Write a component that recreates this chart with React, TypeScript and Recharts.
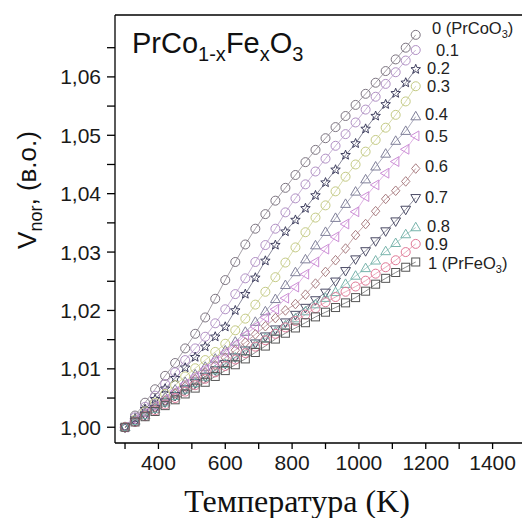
import React from 'react';
import { LineChart, Line, XAxis, YAxis } from 'recharts';

const temperatures = [300, 330, 360, 390, 420, 450, 480, 510, 540, 570, 600, 630, 660, 690, 720, 750, 780, 810, 840, 870, 900, 930, 960, 990, 1020, 1050, 1080, 1110, 1140, 1170];

const x00 = [1.0000, 1.0020, 1.0042, 1.0065, 1.0088, 1.0110, 1.0135, 1.0160, 1.0188, 1.0220, 1.0252, 1.0283, 1.0313, 1.0340, 1.0365, 1.0388, 1.0410, 1.0432, 1.0454, 1.0475, 1.0495, 1.0514, 1.0533, 1.0552, 1.0571, 1.0590, 1.0610, 1.0630, 1.0650, 1.0672];
const x01 = [1.0000, 1.0017, 1.0035, 1.0054, 1.0074, 1.0094, 1.0115, 1.0135, 1.0155, 1.0178, 1.0202, 1.0228, 1.0255, 1.0283, 1.0312, 1.0340, 1.0368, 1.0392, 1.0416, 1.0438, 1.0460, 1.0482, 1.0502, 1.0522, 1.0544, 1.0566, 1.0588, 1.0608, 1.0628, 1.0646];
const x02 = [1.0000, 1.0015, 1.0031, 1.0048, 1.0066, 1.0084, 1.0102, 1.0120, 1.0138, 1.0155, 1.0172, 1.0200, 1.0228, 1.0256, 1.0285, 1.0312, 1.0335, 1.0355, 1.0375, 1.0397, 1.0419, 1.0441, 1.0466, 1.0486, 1.0511, 1.0533, 1.0553, 1.0572, 1.0590, 1.0613];
const x03 = [1.0000, 1.0013, 1.0027, 1.0042, 1.0057, 1.0072, 1.0087, 1.0101, 1.0115, 1.0129, 1.0143, 1.0166, 1.0186, 1.0210, 1.0232, 1.0257, 1.0282, 1.0308, 1.0334, 1.0359, 1.0380, 1.0404, 1.0429, 1.0450, 1.0472, 1.0492, 1.0513, 1.0535, 1.0558, 1.0584];
const x04 = [1.0000, 1.0012, 1.0025, 1.0038, 1.0051, 1.0064, 1.0077, 1.0090, 1.0103, 1.0117, 1.0131, 1.0146, 1.0163, 1.0180, 1.0198, 1.0219, 1.0243, 1.0265, 1.0287, 1.0311, 1.0334, 1.0358, 1.0382, 1.0403, 1.0424, 1.0446, 1.0468, 1.0490, 1.0507, 1.0532];
const x05 = [1.0000, 1.0012, 1.0024, 1.0036, 1.0048, 1.0061, 1.0074, 1.0087, 1.0100, 1.0114, 1.0128, 1.0142, 1.0158, 1.0172, 1.0188, 1.0202, 1.0221, 1.0240, 1.0262, 1.0283, 1.0305, 1.0326, 1.0348, 1.0369, 1.0395, 1.0415, 1.0435, 1.0455, 1.0476, 1.0499];
const x06 = [1.0000, 1.0011, 1.0022, 1.0034, 1.0046, 1.0058, 1.0070, 1.0082, 1.0094, 1.0106, 1.0119, 1.0132, 1.0145, 1.0159, 1.0173, 1.0187, 1.0200, 1.0211, 1.0227, 1.0246, 1.0266, 1.0286, 1.0306, 1.0329, 1.0348, 1.0370, 1.0391, 1.0405, 1.0421, 1.0443];
const x07 = [1.0000, 1.0010, 1.0021, 1.0032, 1.0043, 1.0054, 1.0065, 1.0076, 1.0087, 1.0098, 1.0109, 1.0120, 1.0132, 1.0144, 1.0156, 1.0168, 1.0180, 1.0193, 1.0205, 1.0218, 1.0231, 1.0250, 1.0268, 1.0288, 1.0302, 1.0319, 1.0336, 1.0353, 1.0373, 1.0393];
const x08 = [1.0000, 1.0010, 1.0020, 1.0031, 1.0042, 1.0053, 1.0064, 1.0075, 1.0086, 1.0097, 1.0108, 1.0119, 1.0130, 1.0141, 1.0152, 1.0163, 1.0174, 1.0186, 1.0198, 1.0210, 1.0221, 1.0231, 1.0245, 1.0259, 1.0272, 1.0285, 1.0301, 1.0315, 1.0330, 1.0342];
const x09 = [1.0000, 1.0009, 1.0019, 1.0029, 1.0039, 1.0050, 1.0061, 1.0072, 1.0083, 1.0094, 1.0105, 1.0116, 1.0127, 1.0138, 1.0149, 1.0160, 1.0171, 1.0182, 1.0193, 1.0204, 1.0214, 1.0223, 1.0232, 1.0241, 1.0251, 1.0263, 1.0274, 1.0286, 1.0300, 1.0314];
const x10 = [1.0000, 1.0009, 1.0018, 1.0027, 1.0037, 1.0047, 1.0057, 1.0067, 1.0077, 1.0087, 1.0097, 1.0107, 1.0117, 1.0128, 1.0139, 1.0151, 1.0161, 1.0170, 1.0179, 1.0189, 1.0197, 1.0205, 1.0213, 1.0222, 1.0233, 1.0245, 1.0255, 1.0265, 1.0274, 1.0283];

const compositions = ['0', '0.1', '0.2', '0.3', '0.4', '0.5', '0.6', '0.7', '0.8', '0.9', '1'];
const xTicks = [300, 400, 500, 600, 700, 800, 900, 1000, 1100, 1200, 1300, 1400];
const yTicks = [1.0, 1.005, 1.01, 1.015, 1.02, 1.025, 1.03, 1.035, 1.04, 1.045, 1.05, 1.055, 1.06, 1.065];

const seriesValues = [x00, x01, x02, x03, x04, x05, x06, x07, x08, x09, x10];

const styles = [
  { color: '#7c7480', line: '#8e8890', shape: 'circle' },
  { color: '#b08fc4', line: '#b9a0c9', shape: 'circle' },
  { color: '#3e3e5e', line: '#6a6a80', shape: 'star' },
  { color: '#c4ca84', line: '#ccd096', shape: 'circle' },
  { color: '#80809a', line: '#9494aa', shape: 'tri-up' },
  { color: '#cc8ed6', line: '#d6a0dc', shape: 'tri-left' },
  { color: '#a87c80', line: '#b89094', shape: 'diamond' },
  { color: '#4c4c66', line: '#6c6c80', shape: 'tri-down' },
  { color: '#78b4ac', line: '#90c0b8', shape: 'tri-up' },
  { color: '#e07896', line: '#e494aa', shape: 'circle' },
  { color: '#555555', line: '#707070', shape: 'square' },
];

const labelPos = [
  { x: 432, y: 28 }, { x: 436, y: 50 }, { x: 427, y: 68 }, { x: 427, y: 86 },
  { x: 425, y: 114 }, { x: 425, y: 136 }, { x: 425, y: 166 }, { x: 425, y: 197 },
  { x: 427, y: 226 }, { x: 425, y: 244 }, { x: 428, y: 263 },
];

const data = temperatures.map((t, i) => {
  const row: any = { t };
  seriesValues.forEach((arr, k) => { row['s' + k] = arr[i]; });
  return row;
});

function starPath(cx: number, cy: number, ro: number, ri: number) {
  let d = '';
  for (let i = 0; i < 10; i++) {
    const r = i % 2 === 0 ? ro : ri;
    const a = -Math.PI / 2 + (i * Math.PI) / 5;
    d += (i === 0 ? 'M' : 'L') + (cx + r * Math.cos(a)).toFixed(2) + ',' + (cy + r * Math.sin(a)).toFixed(2);
  }
  return d + 'Z';
}

function Marker({ cx, cy, shape, color }: any) {
  if (cx == null || cy == null) return null;
  const common = { fill: 'none', stroke: color, strokeWidth: 1 };
  switch (shape) {
    case 'star':
      return <path d={starPath(cx, cy, 5, 2.2)} {...common} />;
    case 'tri-up':
      return <path d={`M${cx},${cy - 5.3} L${cx + 4.9},${cy + 3.2} L${cx - 4.9},${cy + 3.2} Z`} {...common} />;
    case 'tri-down':
      return <path d={`M${cx},${cy + 5.3} L${cx + 4.9},${cy - 3.2} L${cx - 4.9},${cy - 3.2} Z`} {...common} />;
    case 'tri-left':
      return <path d={`M${cx - 5.3},${cy} L${cx + 3.2},${cy - 4.9} L${cx + 3.2},${cy + 4.9} Z`} {...common} />;
    case 'diamond':
      return <path d={`M${cx},${cy - 4.8} L${cx + 4.2},${cy} L${cx},${cy + 4.8} L${cx - 4.2},${cy} Z`} {...common} />;
    case 'square':
      return <rect x={cx - 4} y={cy - 4} width={8} height={8} {...common} />;
    default:
      return <circle cx={cx} cy={cy} r={4.5} {...common} />;
  }
}

const fmtY = (v: number) => {
  const m = Math.round(v * 1000);
  return m % 10 === 0 ? v.toFixed(2).replace('.', ',') : '';
};
const fmtX = (v: number) => (v % 200 === 0 ? String(v) : '');

export default function App() {
  const sans = '"Liberation Sans", Arial, sans-serif';
  return (
    <div style={{ position: 'absolute', left: 0, top: 0, width: 522, height: 518, overflow: 'hidden', background: '#fff' }}>
      <LineChart width={540} height={518} data={data} margin={{ top: 15, right: 14, bottom: 0, left: 0 }}>
        <XAxis
          type="number"
          dataKey="t"
          domain={[270, 1500]}
          ticks={xTicks}
          tickFormatter={fmtX}
          interval={0}
          height={75}
          tickSize={6}
          tickMargin={6}
          stroke="#000"
          strokeWidth={1.3}
          tick={{ fill: '#1a1a1a', fontSize: 21, fontFamily: sans }}
        />
        <YAxis
          type="number"
          domain={[0.9973, 1.0706]}
          ticks={yTicks}
          tickFormatter={fmtY}
          interval={0}
          width={115}
          tickSize={8}
          tickMargin={6}
          stroke="#000"
          strokeWidth={1.3}
          tick={{ fill: '#1a1a1a', fontSize: 21, fontFamily: sans }}
          allowDataOverflow
        />
        {styles.map((s, k) => (
          <Line
            key={k}
            type="linear"
            dataKey={'s' + k}
            stroke={s.line}
            strokeWidth={0.8}
            isAnimationActive={false}
            dot={(p: any) => <Marker key={'m' + k + '-' + p.index} cx={p.cx} cy={p.cy} shape={s.shape} color={s.color} />}
            activeDot={false}
          />
        ))}
      </LineChart>
      <svg width={522} height={518} style={{ position: 'absolute', left: 0, top: 0, pointerEvents: 'none' }}>
        <line x1={115} y1={15} x2={522} y2={15} stroke="#000" strokeWidth={1.3} />
        <text x={132} y={53} fontFamily={sans} fontSize={29} fill="#111">
          PrCo<tspan fontSize={20} dy={8}>1-x</tspan><tspan dy={-8}>Fe</tspan><tspan fontSize={20} dy={8}>x</tspan><tspan dy={-8}>O</tspan><tspan fontSize={20} dy={8}>3</tspan>
        </text>
        {compositions.map((c, k) => (
          <text key={c} x={labelPos[k].x} y={labelPos[k].y + 6} fontFamily={sans} fontSize={16.5} fill="#222">
            {c}
            {k === 0 ? (<><tspan> (PrCoO</tspan><tspan fontSize={11} dy={4}>3</tspan><tspan dy={-4}>)</tspan></>) : null}
            {k === compositions.length - 1 ? (<><tspan> (PrFeO</tspan><tspan fontSize={11} dy={4}>3</tspan><tspan dy={-4}>)</tspan></>) : null}
          </text>
        ))}
        <text x={297} y={512} textAnchor="middle" fontFamily='"Liberation Serif", "Times New Roman", serif' fontSize={32} fill="#111">
          Температура (K)
        </text>
        <text transform="translate(36,190) rotate(-90)" textAnchor="middle" fontFamily={sans} fontSize={26} fill="#111">
          V<tspan fontSize={18} dy={6}>nor</tspan><tspan dy={-6}>, (в.о.)</tspan>
        </text>
      </svg>
    </div>
  );
}
